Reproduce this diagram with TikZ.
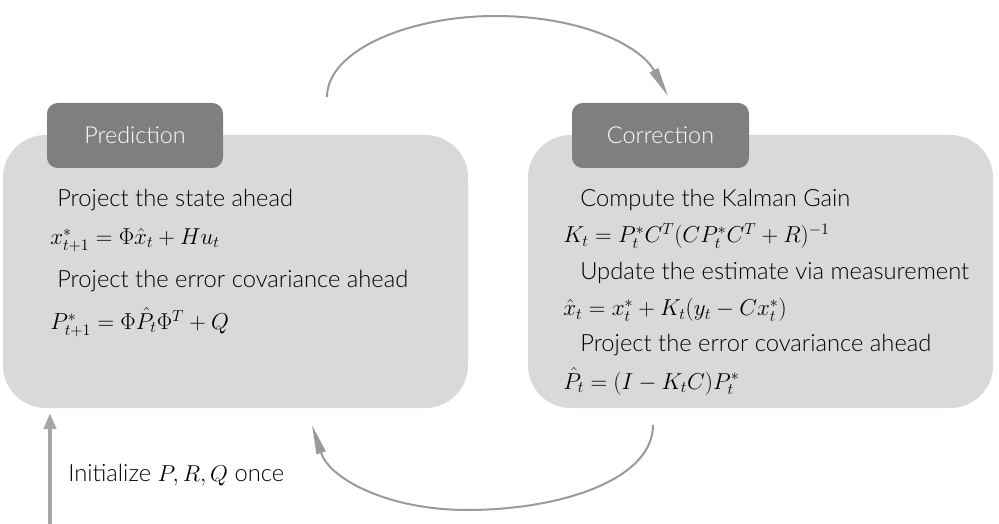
\documentclass[tikz,border=0pt]{standalone}
\usepackage{fontspec}
\setmainfont{Lato Light}
\usetikzlibrary{arrows.meta}
\definecolor{boxgray}{HTML}{D9D9D9}
\definecolor{tabgray}{HTML}{7F7F7F}
\definecolor{arcgray}{HTML}{9A9A9A}
\definecolor{initgray}{HTML}{A6A6A6}
\tikzset{
  bigbox/.style={fill=boxgray, draw=none, rounded corners=32pt},
  tabbox/.style={fill=tabgray, draw=none, rounded corners=8pt, text=white, font=\fontsize{17.5}{20}\selectfont},
  txt/.style={anchor=west, inner sep=0pt, font=\fontsize{17.8}{20}\selectfont},
  mth/.style={anchor=west, inner sep=0pt, font=\fontsize{16.8}{20}\selectfont},
  arc/.style={draw=arcgray, line width=1.5pt, -{Triangle[length=22pt,width=7pt]}},
}
\begin{document}
\begin{tikzpicture}[x=0.75pt,y=-0.75pt]
\useasboundingbox (0,0) rectangle (999,524);
% boxes
\node[bigbox, minimum width=465*0.75pt, minimum height=273*0.75pt] (pbox) at (235.5,271.5) {};
\node[bigbox, minimum width=465*0.75pt, minimum height=273*0.75pt] (cbox) at (760.5,271.5) {};
\node[tabbox, minimum width=176*0.75pt, minimum height=65*0.75pt] (ptab) at (135,135.5) {Prediction};
\node[tabbox, minimum width=177*0.75pt, minimum height=65*0.75pt] (ctab) at (660.5,135.5) {Correction};
% prediction text
\node[txt] (p1) at (57,200) {Project the state ahead};
\node[mth] (p2) at (50,240) {$x^*_{t+1}=\Phi\hat{x}_t+Hu_t$};
\node[txt] (p3) at (57,281) {Project the error covariance ahead};
\node[mth] (p4) at (50,322) {$P^*_{t+1}=\Phi\hat{P}_t\Phi^T+Q$};
% correction text
\node[txt] (c1) at (580,200) {Compute the Kalman Gain};
\node[mth] (c2) at (563,236) {$K_t=P^*_tC^T(CP^*_tC^T+R)^{-1}$};
\node[txt] (c3) at (580,273) {Update the estimate via measurement};
\node[mth] (c4) at (563,310) {$\hat{x}_t=x^*_t+K_t(y_t-Cx^*_t)$};
\node[txt] (c5) at (580,345) {Project the error covariance ahead};
\node[mth] (c6) at (563,381) {$\hat{P}_t=(I-K_tC)P^*_t$};
% arcs
\coordinate (ta) at (327,97);
\coordinate (tb) at (668,96);
\coordinate (ba) at (653,425);
\coordinate (bb) at (312,425);
\draw[arc] (ta) .. controls (327,50) and (410,16) .. (495,16) .. controls (580,16) and (640,45) .. (tb);
\draw[arc] (ba) .. controls (653,480) and (560,510) .. (467,510) .. controls (390,510) and (330,480) .. (bb);
% initialize
\coordinate (i0) at (50,524);
\coordinate (i1) at (50,413);
\draw[draw=initgray, line width=3pt, -{Triangle[length=12pt,width=9pt]}] (i0) -- (i1);
\node[txt] (init) at (68,475) {Initialize $P,R,Q$ once};
\end{tikzpicture}
\end{document}
